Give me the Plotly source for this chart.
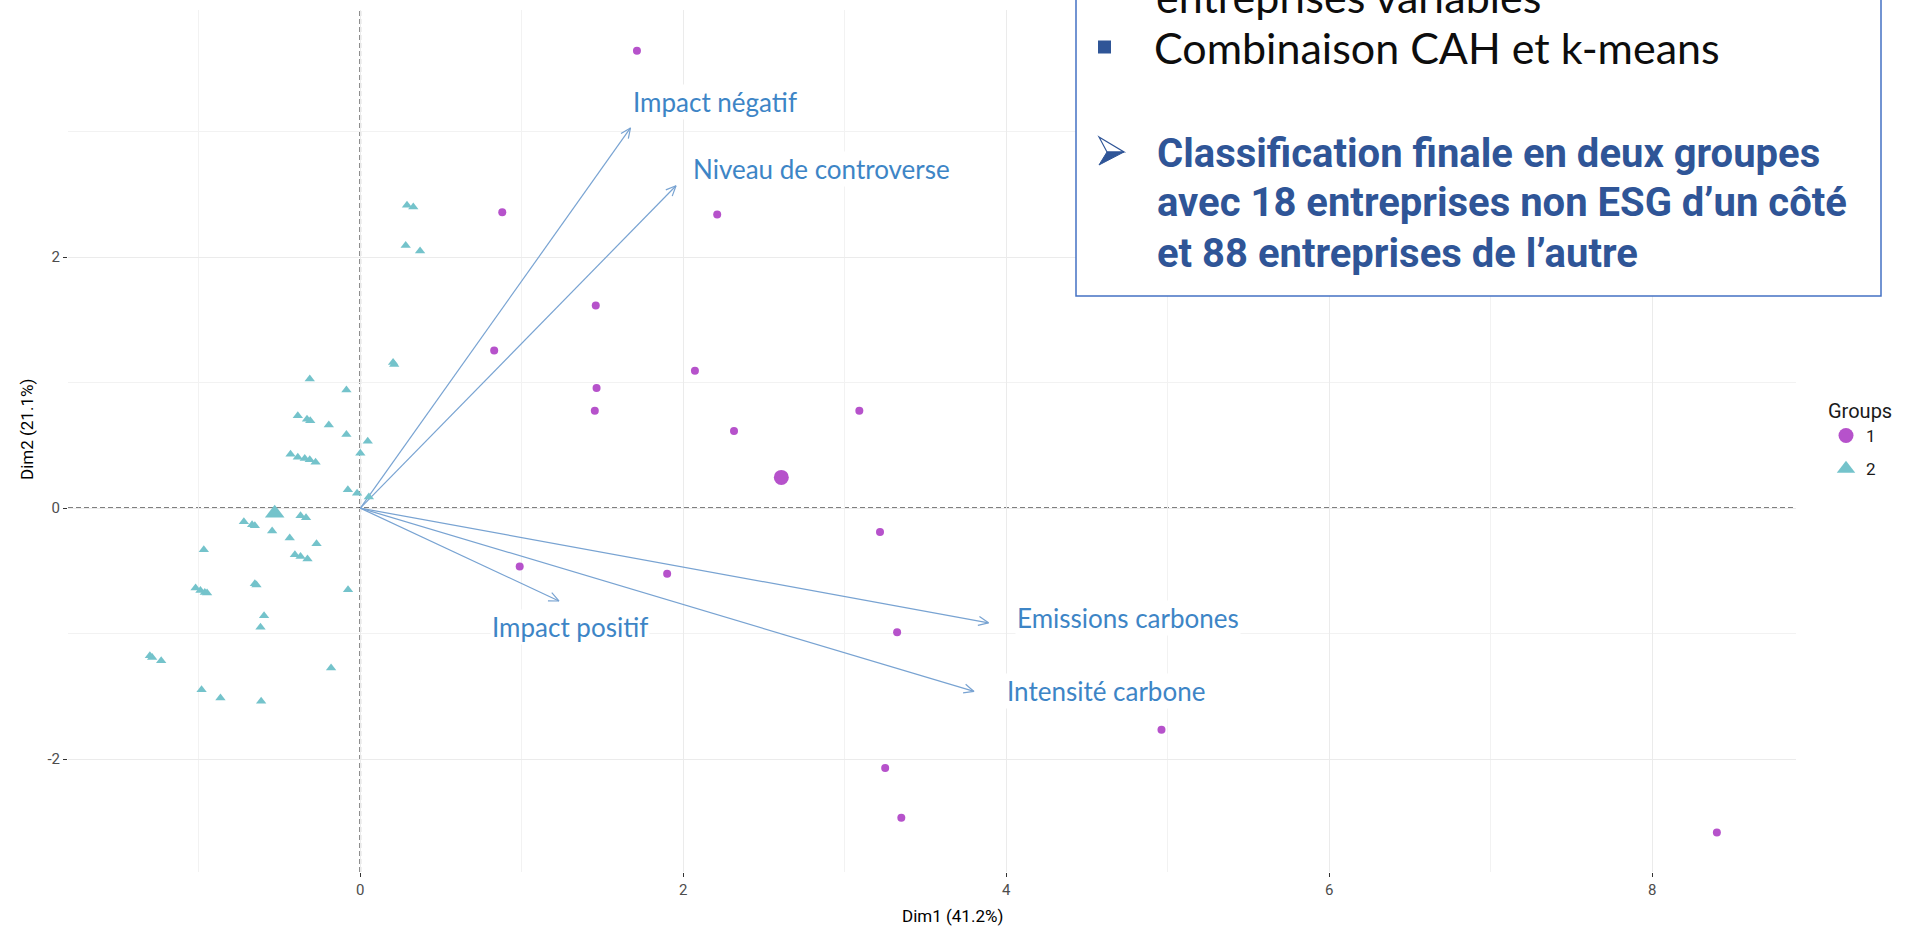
import math
import plotly.graph_objects as go

# ---------------- data ----------------
g1_x = [1.713, 0.879, 2.21, 1.458, 0.829, 2.072, 1.463, 1.452, 3.09, 2.314,
        3.218, 0.987, 1.90, 3.324, 4.961, 3.250, 3.350, 8.40]
g1_y = [3.645, 2.358, 2.34, 1.615, 1.257, 1.095, 0.958, 0.777, 0.776, 0.614,
        -0.191, -0.465, -0.523, -0.99, -1.767, -2.072, -2.468, -2.585]

g2_x = [0.289, 0.328, 0.281, 0.370, 0.203, 0.210, -0.313, -0.086, -0.387, -0.330,
        -0.310, -0.195, -0.086, 0.046, 0.000, -0.432, -0.387, -0.344, -0.313, -0.277,
        -0.077, -0.020, 0.053, -0.370, -0.336, -0.721, -0.670, -0.653, -0.546, -0.437,
        -0.271, -0.969, -0.405, -0.370, -0.327, -0.653, -0.643, -1.020, -0.990, -0.963,
        -0.949, -0.076, -0.596, -0.618, -1.303, -1.289, -1.233, -0.181, -0.983, -0.866,
        -0.614]
g2_y = [2.414, 2.400, 2.093, 2.050, 1.160, 1.145, 1.030, 0.942, 0.737, 0.708,
        0.697, 0.663, 0.586, 0.533, 0.438, 0.430, 0.406, 0.395, 0.385, 0.366,
        0.146, 0.119, 0.088, -0.061, -0.077, -0.108, -0.133, -0.141, -0.182, -0.238,
        -0.284, -0.332, -0.372, -0.385, -0.405, -0.603, -0.613, -0.637, -0.656, -0.672,
        -0.677, -0.650, -0.857, -0.950, -1.176, -1.190, -1.216, -1.274, -1.447, -1.513,
        -1.540]

centroid_x = [2.607, -0.530]
centroid_y = [0.245, -0.040]
group_names = ["1", "2"]

var_names = ["Impact négatif", "Niveau de controverse", "Impact positif",
             "Emissions carbones", "Intensité carbone"]
var_x = [1.673, 1.955, 1.230, 3.890, 3.800]
var_y = [3.030, 2.569, -0.740, -0.914, -1.461]
label_x = [2.195, 2.856, 1.299, 4.754, 4.616]
label_y = [3.237, 2.699, -0.946, -0.879, -1.458]

x_title = "Dim1 (41.2%)"
y_title = "Dim2 (21.1%)"
x_ticks = [0, 2, 4, 6, 8]
y_ticks = [-2, 0, 2]

slide_cut_line = "entreprises variables"
slide_bullet = "Combinaison CAH et k-means"
slide_conclusion = ["Classification finale en deux groupes",
                    "avec 18 entreprises non ESG d\u2019un côté",
                    "et 88 entreprises de l\u2019autre"]

# ---------------- layout geometry ----------------
W, H = 1905, 928
L, R, T, B = 68, 1796, 10, 872
XR = [-1.81, 8.89]
YR = [-2.90, 3.97]
sx = (R - L) / (XR[1] - XR[0])
sy = (B - T) / (YR[1] - YR[0])


def pxp(px):
    return (px - L) / (R - L)


def pyp(py):
    return (B - py) / (B - T)


def ppath(points):
    s = "M " + " L ".join(f"{pxp(px):.5f},{pyp(py):.5f}" for px, py in points)
    return s + " Z"


PURPLE = "#B652CB"
TEAL = "#74C3CB"
ARROW = "#78A3D2"
LABEL = "#3D85C6"
DARKBLUE = "#2F5597"
AXF = "Roboto, Liberation Sans, sans-serif"
SLIDE = "Lato, Open Sans, sans-serif"

fig = go.Figure()

# loading arrows (shaft + open chevron head computed in pixel space)
ax_, ay_ = [], []
head = 11
spread = 0.42
for x1, y1 in zip(var_x, var_y):
    ang = math.atan2(y1 * sy, x1 * sx)
    ax_ += [0, x1, None]
    ay_ += [0, y1, None]
    pts = []
    for a in (ang + math.pi - spread, ang + math.pi + spread):
        pts.append((x1 + head * math.cos(a) / sx, y1 + head * math.sin(a) / sy))
    ax_ += [pts[0][0], x1, pts[1][0], None]
    ay_ += [pts[0][1], y1, pts[1][1], None]
fig.add_trace(go.Scatter(x=ax_, y=ay_, mode="lines",
                         line=dict(color=ARROW, width=1.2),
                         hoverinfo="skip", showlegend=False))

fig.add_trace(go.Scatter(x=g2_x, y=g2_y, mode="markers", legendgroup="2",
                         marker=dict(symbol="triangle-up", size=9, color=TEAL),
                         showlegend=False))
fig.add_trace(go.Scatter(x=g1_x, y=g1_y, mode="markers", legendgroup="1",
                         marker=dict(symbol="circle", size=8, color=PURPLE),
                         showlegend=False))
fig.add_trace(go.Scatter(x=[centroid_x[0]], y=[centroid_y[0]], mode="markers",
                         name=group_names[0], legendgroup="1",
                         marker=dict(symbol="circle", size=15, color=PURPLE)))
fig.add_trace(go.Scatter(x=[centroid_x[1]], y=[centroid_y[1]], mode="markers",
                         name=group_names[1], legendgroup="2",
                         marker=dict(symbol="triangle-up", size=17, color=TEAL)))

annotations = []
for name, lx, ly in zip(var_names, label_x, label_y):
    annotations.append(dict(x=lx, y=ly, xref="x", yref="y", text=name,
                            showarrow=False, bgcolor="white",
                            font=dict(family=SLIDE, size=26, color=LABEL)))

# slide overlay texts
annotations.append(dict(x=pxp(1154), y=pyp(-3), xref="paper", yref="paper",
                        xanchor="left", yanchor="middle", text=slide_cut_line,
                        showarrow=False,
                        font=dict(family=SLIDE, size=43, color="#0D0D0D")))
annotations.append(dict(x=pxp(1152), y=pyp(48), xref="paper", yref="paper",
                        xanchor="left", yanchor="middle", text=slide_bullet,
                        showarrow=False,
                        font=dict(family=SLIDE, size=43, color="#0D0D0D")))
for i, line in enumerate(slide_conclusion):
    annotations.append(dict(x=pxp(1155), y=pyp(153 + 50 * i), xref="paper",
                            yref="paper", xanchor="left", yanchor="middle",
                            text="<b>" + line + "</b>", showarrow=False,
                            font=dict(family="Roboto, sans-serif", size=40,
                                      color=DARKBLUE)))

annotations.append(dict(x=pxp(27), y=pyp(430), xref="paper", yref="paper",
                        text=y_title, textangle=-90, showarrow=False,
                        xanchor="center", yanchor="middle",
                        font=dict(family=AXF, size=17, color="black")))
annotations.append(dict(x=pxp(952), y=pyp(916), xref="paper", yref="paper",
                        text=x_title, showarrow=False,
                        xanchor="center", yanchor="middle",
                        font=dict(family=AXF, size=17, color="black")))

shapes = [
    dict(type="line", xref="x", yref="paper", x0=0, x1=0, y0=0, y1=1,
         line=dict(color="black", width=1.5, dash="5px,3px"), layer="between"),
    dict(type="line", xref="paper", yref="y", x0=0, x1=1, y0=0, y1=0,
         line=dict(color="black", width=1.5, dash="5px,3px"), layer="between"),
    dict(type="rect", xref="paper", yref="paper",
         x0=pxp(1076), x1=pxp(1881), y0=pyp(296), y1=pyp(-5),
         fillcolor="white", line=dict(color="#4472C4", width=1.5), layer="above"),
    dict(type="rect", xref="paper", yref="paper",
         x0=pxp(1098), x1=pxp(1111), y0=pyp(53.5), y1=pyp(40.5),
         fillcolor=DARKBLUE, line=dict(width=0), layer="above"),
    # 3D arrow bullet: light upper half, dark lower half
    dict(type="path", xref="paper", yref="paper",
         path=ppath([(1099, 137), (1124, 152), (1107, 152)]),
         fillcolor="white", line=dict(color=DARKBLUE, width=1.2), layer="above"),
    dict(type="path", xref="paper", yref="paper",
         path=ppath([(1107, 152), (1124, 152), (1099, 165)]),
         fillcolor=DARKBLUE, line=dict(color=DARKBLUE, width=1), layer="above"),
]

axis_common = dict(showline=False, zeroline=False, ticks="outside", ticklen=4,
                   tickcolor="#333333", tickwidth=1,
                   gridcolor="#EBEBEB", gridwidth=1.2,
                   tickfont=dict(family=AXF, size=15, color="#4D4D4D"))

fig.update_layout(
    width=W, height=H,
    margin=dict(l=L, r=W - R, t=T, b=H - B, autoexpand=False),
    paper_bgcolor="white", plot_bgcolor="white",
    xaxis=dict(range=XR, tickvals=x_ticks, ticktext=[str(v) for v in x_ticks],
               minor=dict(tickvals=[-1, 1, 3, 5, 7], showgrid=True,
                          gridcolor="#F2F2F2", gridwidth=1, ticks=""),
               **axis_common),
    yaxis=dict(range=YR, tickvals=y_ticks, ticktext=[str(v) for v in y_ticks],
               minor=dict(tickvals=[-3, -1, 1, 3], showgrid=True,
                          gridcolor="#F2F2F2", gridwidth=1, ticks=""),
               **axis_common),
    showlegend=True,
    legend=dict(x=pxp(1826), y=pyp(392), xanchor="left", yanchor="top",
                title=dict(text="Groups",
                           font=dict(family=AXF, size=20, color="#1A1A1A")),
                font=dict(family=AXF, size=17, color="#1A1A1A"),
                tracegroupgap=8, itemwidth=30, bgcolor="rgba(0,0,0,0)"),
    annotations=annotations,
    shapes=shapes,
)

fig.write_html("out.html")
